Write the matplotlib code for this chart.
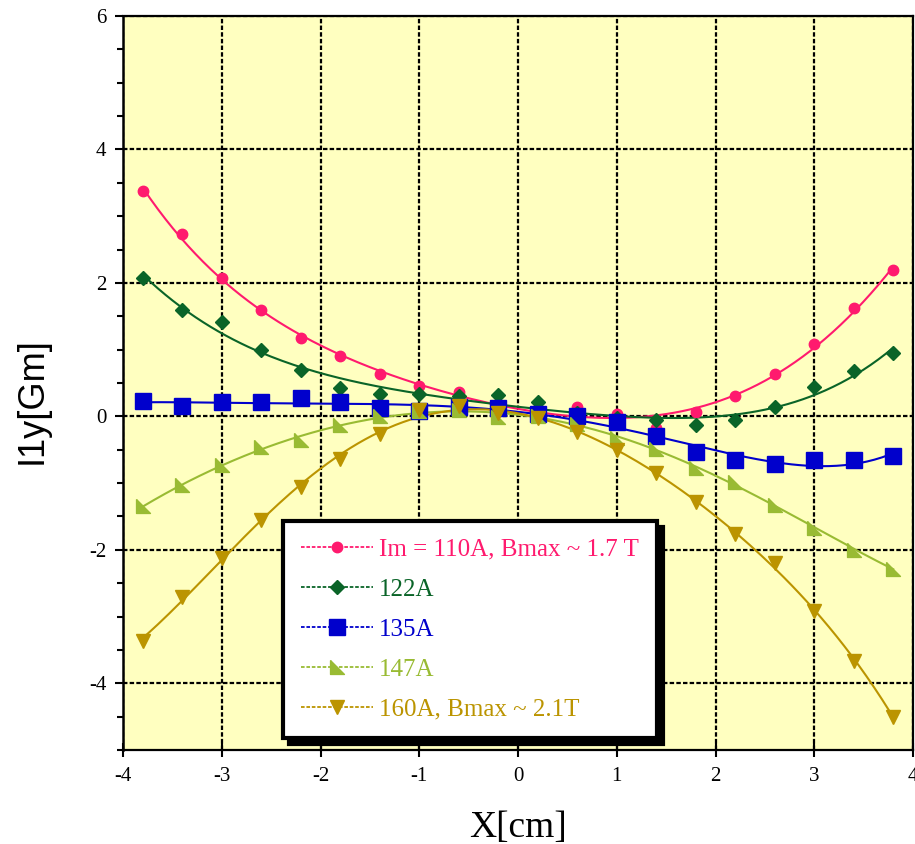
import numpy as np
import matplotlib
matplotlib.use("Agg")
import matplotlib.pyplot as plt
from matplotlib.ticker import MultipleLocator

plt.rcParams["axes.unicode_minus"] = False

x = [-3.8, -3.4, -3.0, -2.6, -2.2, -1.8, -1.4, -1.0, -0.6, -0.2,
     0.2, 0.6, 1.0, 1.4, 1.8, 2.2, 2.6, 3.0, 3.4, 3.8]

im110 = [3.37, 2.73, 2.08, 1.59, 1.18, 0.91, 0.63, 0.45, 0.36, 0.14,
         0.10, 0.14, 0.04, -0.17, 0.07, 0.30, 0.63, 1.09, 1.62, 2.19]
im122 = [2.08, 1.60, 1.41, 1.00, 0.70, 0.42, 0.34, 0.33, 0.30, 0.32,
         0.21, 0.05, -0.02, -0.05, -0.13, -0.05, 0.14, 0.44, 0.68, 0.95]
im135 = [0.23, 0.16, 0.21, 0.21, 0.27, 0.21, 0.12, 0.08, 0.14, 0.12,
         0.04, 0.00, -0.09, -0.29, -0.53, -0.66, -0.71, -0.66, -0.66, -0.60]
im147 = [-1.35, -1.03, -0.73, -0.46, -0.36, -0.13, 0.00, 0.08, 0.09, -0.01,
         0.00, -0.11, -0.33, -0.49, -0.78, -0.99, -1.33, -1.68, -2.00, -2.28]
im160 = [-3.36, -2.70, -2.13, -1.56, -1.06, -0.64, -0.26, 0.09, 0.16, 0.05,
         -0.03, -0.24, -0.51, -0.85, -1.29, -1.76, -2.20, -2.91, -3.66, -4.50]

labels = ["Im = 110A, Bmax ~ 1.7 T", "122A", "135A", "147A", "160A, Bmax ~ 2.1T"]
series = [im110, im122, im135, im147, im160]
colors = ["#FF1A6E", "#0A6428", "#0000CC", "#99BB33", "#BB9400"]
tri = [(-1, 1), (-1, -1), (1, -1), (-1, 1)]
markers = ["o", "D", "s", tri, "v"]
msizes = [7.5, 7, 11, 10, 10]

x_ticks = [-4, -3, -2, -1, 0, 1, 2, 3, 4]
y_ticks = [-4, -2, 0, 2, 4, 6]

fig = plt.figure(figsize=(9.15, 8.44), dpi=100)
ax = fig.add_axes([123/915, (844-750)/844, 790/915, 734/844])
ax.set_facecolor("#FFFFC0")

xa = np.array(x)
xf = np.linspace(min(x), max(x), 200)
for ys, c, m, ms, lab in zip(series, colors, markers, msizes, labels):
    coef = np.polyfit(xa, np.array(ys), 5)
    ax.plot(xf, np.polyval(coef, xf), color=c, lw=1.5, zorder=3)
    ax.plot(x, ys, linestyle="none", marker=m, ms=ms, color=c, zorder=4)
    ax.plot([], [], color=c, lw=1.3, ls=(0, (2, 1)), marker=m, ms=ms, label=lab)

ax.set_xlim(-4, 4)
ax.set_ylim(-5, 6)
ax.set_xticks(x_ticks)
ax.set_yticks(y_ticks)
ax.yaxis.set_minor_locator(MultipleLocator(0.5))
ax.grid(True, which="major", color="black", lw=1.6, ls=(0, (2, 1)), zorder=1)
ax.set_axisbelow(True)

serif = "Liberation Serif"
for t in ax.get_xticklabels() + ax.get_yticklabels():
    t.set_fontfamily(serif)
    t.set_fontsize(15)
ax.tick_params(axis="y", which="major", direction="out", length=6, width=1.5, pad=6)
ax.tick_params(axis="y", which="minor", direction="out", length=4, width=1.5)
ax.tick_params(axis="x", which="major", direction="inout", length=10, width=1.5, pad=7)

for s in ["top", "right", "bottom"]:
    ax.spines[s].set_linestyle((0, (2, 1)))
    ax.spines[s].set_linewidth(1.6)
ax.spines["left"].set_linewidth(1.8)

ax.set_xlabel("X[cm]", fontfamily=serif, fontsize=27, labelpad=18)
fig.text(32/915, 1 - 401/844, "I1y[Gm]", fontfamily="Liberation Sans", fontsize=26,
         rotation=90, ha="center", va="center")

leg = ax.legend(loc="lower left", bbox_to_anchor=(160/790, 12/734), frameon=True,
                fancybox=False, prop={"family": serif, "size": 18},
                handlelength=2.9, labelspacing=0.7, borderpad=0.7,
                handletextpad=0.25, borderaxespad=0,
                shadow={"color": "black", "alpha": 1, "ox": 4.5, "oy": -4.5})
leg.get_frame().set_edgecolor("black")
leg.get_frame().set_linewidth(3)
leg.get_frame().set_facecolor("white")
leg.get_frame().set_alpha(1)
for txt, c in zip(leg.get_texts(), colors):
    txt.set_color(c)

fig.savefig("out.png", dpi=100)
